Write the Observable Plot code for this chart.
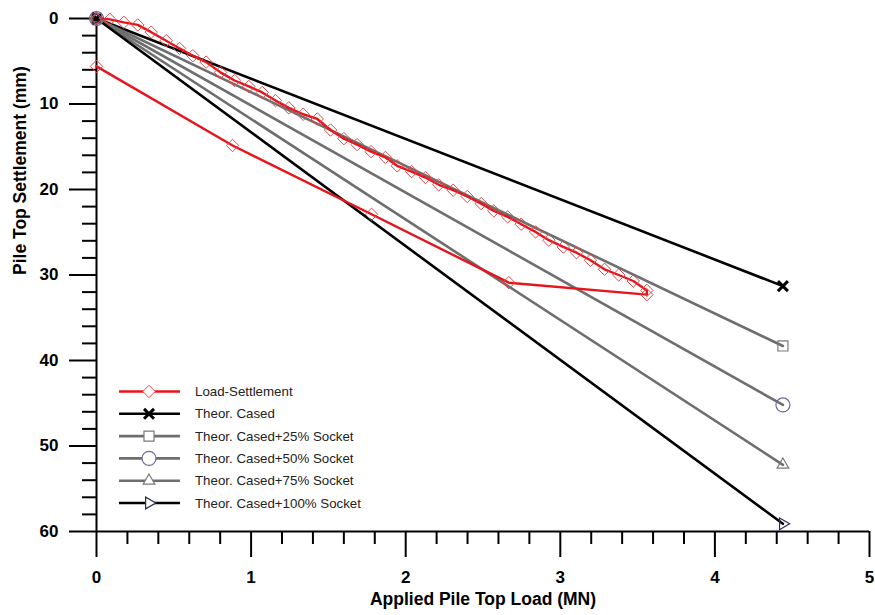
<!DOCTYPE html>
<html><head><meta charset="utf-8">
<script src="https://cdn.jsdelivr.net/npm/d3@7"></script>
<script src="https://cdn.jsdelivr.net/npm/@observablehq/plot@0.6"></script>
<style>
body{margin:0;background:#fff;}
#chart svg{display:block;}
</style></head><body><div id="chart"></div>
<script>
// Measured load-settlement (loading then unloading)
const loadMN = [0, 0.086, 0.177, 0.267, 0.354, 0.451, 0.537, 0.623, 0.709, 0.802, 0.893, 0.985, 1.072, 1.158, 1.244, 1.337, 1.428, 1.514, 1.6, 1.686, 1.776, 1.869, 1.945, 2.038, 2.128, 2.214, 2.307, 2.398, 2.488, 2.57, 2.66, 2.747, 2.84, 2.926, 3.019, 3.105, 3.195, 3.286, 3.378, 3.472, 3.56, 3.56, 2.667, 1.779, 0.88, 0];
const settlementMM = [0, 0.1, 0.45, 0.75, 1.6, 2.6, 3.5, 4.35, 5.1, 6.3, 7.25, 7.95, 8.65, 9.6, 10.45, 11.2, 11.75, 13.04, 14.05, 14.75, 15.57, 16.25, 17.23, 17.9, 18.6, 19.45, 20.08, 20.82, 21.65, 22.5, 23.2, 24.06, 24.96, 25.93, 26.72, 27.39, 28.28, 29.33, 30.0, 30.7, 31.8, 32.3, 30.9, 22.9, 14.85, 5.6];

// Theoretical lines
const theorNames = ["Theor. Cased", "Theor. Cased+25% Socket", "Theor. Cased+50% Socket", "Theor. Cased+75% Socket", "Theor. Cased+100% Socket"];
const theorLoad = [0, 4.44];
const theorStart = [0, 0, 0, 0, 0];
const theorEnd = [31.3, 38.3, 45.2, 52.2, 59.1];

const xTicks = [0, 1, 2, 3, 4, 5];
const yTicks = [0, 10, 20, 30, 40, 50, 60];
const xMinorTicks = [0.2, 0.4, 0.6, 0.8, 1.2, 1.4, 1.6, 1.8, 2.2, 2.4, 2.6, 2.8, 3.2, 3.4, 3.6, 3.8, 4.2, 4.4, 4.6, 4.8];
const yMinorTicks = [2, 4, 6, 8, 12, 14, 16, 18, 22, 24, 26, 28, 32, 34, 36, 38, 42, 44, 46, 48, 52, 54, 56, 58];
const xLabel = "Applied Pile Top Load (MN)";
const yLabel = "Pile Top Settlement (mm)";
const legendNames = ["Load-Settlement", ...theorNames];

// styles
const rightTriangle = {
  draw(context, size) {
    const r = Math.sqrt(size) * 0.6824;
    const t = r / 2, u = r * Math.sqrt(3) / 2;
    context.moveTo(r, 0);
    context.lineTo(-t, -u);
    context.lineTo(-t, u);
    context.closePath();
  }
};
const lineColors = ["#e8141b", "#000000", "#6e6e6e", "#6e6e6e", "#6e6e6e", "#000000"];
const lineWidths = [2.4, 2.6, 2.6, 2.6, 2.6, 2.6];
const markerStrokes = ["#e04a4a", "#000000", "#7a7a7a", "#6a6a98", "#7a7a7a", "#2c2c5a"];
const markerWidths = [1, 3, 1.2, 1.2, 1.2, 1.2];
const markerSymbols = ["diamond2", "times", "square2", "circle2", "triangle2", rightTriangle];
const markerR = [5.6, 4.6, 6.4, 7, 5.6, 5.6];
const d3Symbols = [d3.symbolDiamond2, d3.symbolTimes, d3.symbolSquare2, d3.symbolCircle, d3.symbolTriangle2, rightTriangle];

const measured = loadMN.map((x, i) => ({x, y: settlementMM[i]}));
const theor = theorNames.map((name, k) => theorLoad.map((x, j) => ({name, x, y: j === 0 ? theorStart[k] : theorEnd[k]})));

const marks = [
  Plot.axisY(yMinorTicks, {tickSize: 14, tickFormat: () => "", strokeWidth: 2, label: null}),
  Plot.axisY(yTicks, {tickSize: 27, tickPadding: 11, strokeWidth: 2, label: null, tickFormat: d => String(d)}),
  Plot.axisX(xMinorTicks, {tickSize: 13, tickFormat: () => "", strokeWidth: 2, label: null}),
  Plot.axisX(xTicks, {tickSize: 26, tickPadding: 13, strokeWidth: 2, label: null, tickFormat: d => String(d)}),
  Plot.ruleX([0], {strokeWidth: 2}),
  Plot.ruleY([60], {strokeWidth: 2}),
  Plot.text([xLabel], {text: d => d, frameAnchor: "bottom", dy: 73, fontSize: 17.5, fontWeight: "bold"}),
  Plot.text([yLabel], {text: d => d, frameAnchor: "left", dx: -76, rotate: -90, fontSize: 17.5, fontWeight: "bold"})
];
theor.forEach((pts, k) => {
  marks.push(Plot.line(pts, {x: "x", y: "y", stroke: lineColors[k + 1], strokeWidth: lineWidths[k + 1]}));
});
marks.push(Plot.line(measured, {x: "x", y: "y", stroke: lineColors[0], strokeWidth: lineWidths[0]}));
theor.forEach((pts, k) => {
  marks.push(Plot.dot(pts, {x: "x", y: "y", symbol: markerSymbols[k + 1], r: markerR[k + 1], stroke: markerStrokes[k + 1], strokeWidth: markerWidths[k + 1], fill: "none"}));
});
marks.push(Plot.dot(measured, {x: "x", y: "y", symbol: markerSymbols[0], r: markerR[0], stroke: markerStrokes[0], strokeWidth: markerWidths[0], fill: "none"}));

const chart = Plot.plot({
  width: 875, height: 615,
  marginLeft: 96, marginRight: 6, marginTop: 18, marginBottom: 84,
  x: {domain: [0, 5]},
  y: {domain: [0, 60], reverse: true},
  style: {fontFamily: "'Liberation Sans', Arial, sans-serif", fontSize: "17px", fontWeight: "bold", color: "#000", background: "#fff"},
  marks
});

// Legend (inside plot area, lower left)
const svg = d3.select(chart);
const lg = svg.append("g").attr("class", "legend").attr("text-anchor", "start");
const rowY0 = 391.5, rowStep = 22.3;
legendNames.forEach((name, i) => {
  const y = rowY0 + i * rowStep;
  lg.append("line").attr("x1", 119).attr("x2", 180).attr("y1", y).attr("y2", y)
    .attr("stroke", lineColors[i]).attr("stroke-width", lineWidths[i]);
  lg.append("path")
    .attr("d", d3.symbol(d3Symbols[i], Math.PI * markerR[i] * markerR[i])())
    .attr("transform", `translate(149,${y})`)
    .attr("fill", "#fff").attr("stroke", markerStrokes[i]).attr("stroke-width", markerWidths[i]);
  lg.append("text").attr("x", 195).attr("y", y).attr("dy", "0.35em")
    .attr("text-anchor", "start")
    .attr("font-family", "'Liberation Sans', Arial, sans-serif").attr("font-size", 13.3)
    .attr("font-weight", "normal").attr("fill", "#222").text(name);
});

document.getElementById("chart").appendChild(chart);
</script>
</body></html>
